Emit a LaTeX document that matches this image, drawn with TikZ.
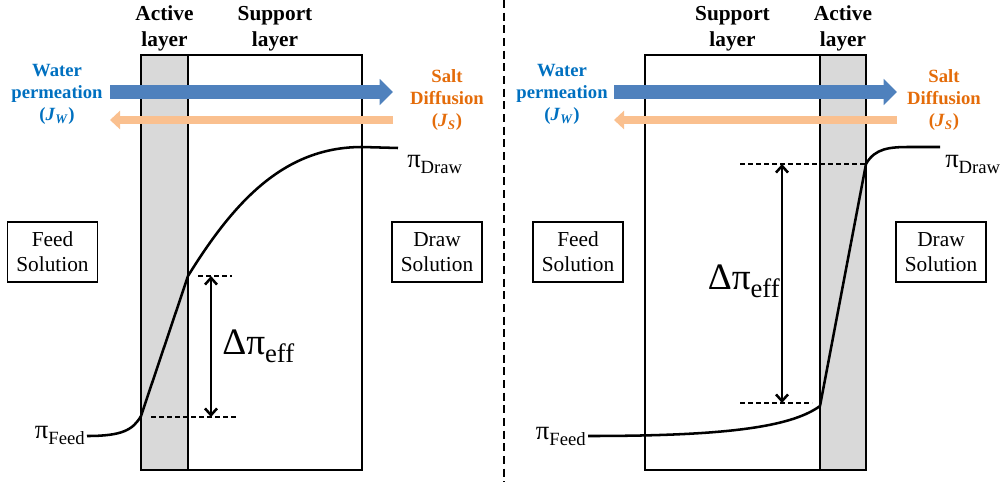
\documentclass[tikz,border=0pt]{standalone}
\usepackage{fontspec}
\setmainfont{Liberation Serif}
\newfontfamily\diagserif{Liberation Serif}
\usetikzlibrary{arrows.meta,positioning}
\definecolor{flowblue}{HTML}{4F81BD}
\definecolor{flowpeach}{HTML}{FAC08F}
\definecolor{txtblue}{HTML}{0070C0}
\definecolor{txtorange}{HTML}{E46C0A}
\definecolor{layergray}{HTML}{D9D9D9}
\newcommand{\pilabel}[1]{{\diagserif\fontsize{20}{24}\selectfont π}{\diagserif\fontsize{14}{16}\selectfont\raisebox{-5pt}{#1}}}
\newcommand{\dpieff}{{\diagserif\fontsize{28}{30}\selectfont Δπ}{\diagserif\fontsize{20}{22}\selectfont\raisebox{-6pt}{eff}}}

\begin{document}
\begin{tikzpicture}[
    x=0.75pt, y=-0.75pt,
    layer/.style={draw, line width=1.9pt, outer sep=0pt, minimum height=311.25pt, anchor=north west},
    header/.style={align=center, inner sep=0pt, font=\diagserif\fontsize{16}{19}\selectfont\bfseries},
    fluxlbl/.style={align=center, inner sep=0pt, font=\diagserif\fontsize{14}{16.5}\selectfont\bfseries},
    solbox/.style={draw, line width=0.8pt, align=center, minimum width=67.5pt, minimum height=45pt, inner sep=0pt, font=\diagserif\fontsize{16}{19}\selectfont},
    water/.style={line width=10.5pt, flowblue, -{Triangle[length=10pt, width=19pt]}},
    salt/.style={line width=6pt, flowpeach, -{Triangle[length=7.5pt, width=13.5pt]}},
    profile/.style={line width=1.9pt, line join=round},
    guide/.style={dash pattern=on 4pt off 2pt, line width=1pt},
    span/.style={{Straight Barb[length=5pt, width=9pt]}-{Straight Barb[length=5pt, width=9pt]}, line width=1.9pt},
    plbl/.style={inner sep=0pt, font=\diagserif},
]
    \useasboundingbox (0,0) rectangle (1003,482);

    % left panel: active layer facing the feed
    \node[layer, fill=layergray, minimum width=35.25pt] (actL) at (141,55) {};
    \node[layer, minimum width=130.5pt, right=0pt of actL.north east, anchor=north west] (supL) {};
    \node[header, above=3pt of actL] {Active\\layer};
    \node[header, above=3pt of supL] {Support\\layer};

    \coordinate (wL0) at (110,92);
    \coordinate (wL1) at (393,92);
    \coordinate (sL0) at (393,120);
    \coordinate (sL1) at (110,120);
    \draw[water] (wL0) -- (wL1);
    \draw[salt] (sL0) -- (sL1);
    \node[fluxlbl, text=txtblue] at (57,94) {Water\\permeation\\(\textit{J}\textsubscript{\textit{W}})};
    \node[fluxlbl, text=txtorange] at (447,100) {Salt\\Diffusion\\(\textit{J}\textsubscript{\textit{S}})};

    \node[solbox] (feedL) at (52.5,252) {Feed\\Solution};
    \node[solbox] (drawL) at (437,252) {Draw\\Solution};

    \draw[profile] (87,436) .. controls (122,436) and (133,430) .. (141,416)
        -- (188,276) .. controls (235,200) and (285,147) .. (362,147) -- (398,148);
    \node[plbl, anchor=base east] (pfeedL) at (85,438) {\pilabel{Feed}};
    \node[plbl, anchor=base west] (pdrawL) at (407,167) {\pilabel{Draw}};

    \coordinate (gLt) at (211,276);
    \coordinate (gLb) at (211,417);
    \draw[guide] (198,276) -- (232,276);
    \draw[guide] (151,417) -- (238,417);
    \draw[span] (gLt) -- (gLb);
    \node[plbl, anchor=base west] (effL) at (222,354) {\dpieff};

    % divider
    \coordinate (divT) at (504,0);
    \coordinate (divB) at (504,482);
    \draw[line width=1pt, dash pattern=on 6pt off 3.5pt] (divT) -- (divB);

    % right panel: active layer facing the draw
    \node[layer, minimum width=131.25pt] (supR) at (645,55) {};
    \node[layer, fill=layergray, minimum width=34.5pt, right=0pt of supR.north east, anchor=north west] (actR) {};
    \node[header, above=3pt of supR] {Support\\layer};
    \node[header, above=3pt of actR] {Active\\layer};

    \coordinate (wR0) at (614,92);
    \coordinate (wR1) at (897,92);
    \coordinate (sR0) at (897,120);
    \coordinate (sR1) at (614,120);
    \draw[water] (wR0) -- (wR1);
    \draw[salt] (sR0) -- (sR1);
    \node[fluxlbl, text=txtblue] at (562,94) {Water\\permeation\\(\textit{J}\textsubscript{\textit{W}})};
    \node[fluxlbl, text=txtorange] at (944,100) {Salt\\Diffusion\\(\textit{J}\textsubscript{\textit{S}})};

    \node[solbox] (feedR) at (578,252) {Feed\\Solution};
    \node[solbox] (drawR) at (941,252) {Draw\\Solution};

    \draw[profile] (588,436) .. controls (720,436) and (790,428) .. (820,406)
        -- (866,164) .. controls (875,148) and (890,147) .. (910,147) -- (940,147);
    \node[plbl, anchor=base east] (pfeedR) at (586,439) {\pilabel{Feed}};
    \node[plbl, anchor=base west] (pdrawR) at (945,167) {\pilabel{Draw}};

    \coordinate (gRt) at (782,164);
    \coordinate (gRb) at (782,403);
    \draw[guide] (740,164) -- (866,164);
    \draw[guide] (740,403) -- (812,403);
    \draw[span] (gRt) -- (gRb);
    \node[plbl, anchor=base east] (effR) at (780,289) {\dpieff};
\end{tikzpicture}
\end{document}
